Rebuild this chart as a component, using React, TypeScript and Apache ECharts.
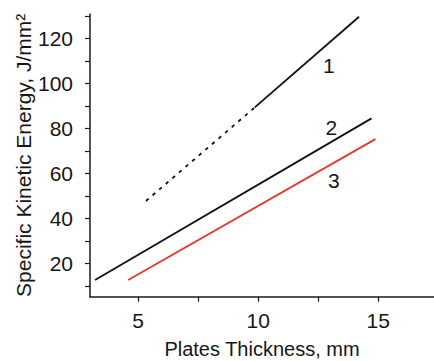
import React, { useEffect, useRef } from "react";
import * as echarts from "echarts";

// Curve 1 (dotted extrapolated part, then solid), curve 2 (black), curve 3 (red)
const curve1DottedX = [5.33, 9.86];
const curve1DottedY = [47.7, 89.3];
const curve1SolidX = [9.86, 14.2];
const curve1SolidY = [89.3, 129.6];
const curve2X = [3.21, 14.72];
const curve2Y = [12.6, 84.4];
const curve3X = [4.59, 14.88];
const curve3Y = [12.6, 75.2];

// Curve number labels
const curveLabels = ["1", "2", "3"];
const curveLabelX = [12.94, 13.05, 13.15];
const curveLabelY = [107.9, 80.3, 57.0];

// Axis ticks
const xTickValues = [5, 7.5, 10, 12.5, 15];
const xLabelValues = [5, 10, 15];
const yTickValues = [10, 20, 30, 40, 50, 60, 70, 80, 90, 100, 110, 120, 130];
const yLabelValues = [20, 40, 60, 80, 100, 120];

const zip = (xs: number[], ys: number[]) => xs.map((x, i) => [x, ys[i]]);

const FONT = "'Liberation Sans', Arial, Helvetica, sans-serif";
const TEXT = "#161616";
const AXIS = "#1a1a1a";
const FS = 21;

export default function App() {
  const ref = useRef<HTMLDivElement>(null);
  useEffect(() => {
    if (!ref.current) return;
    const chart = echarts.init(ref.current, null, { renderer: "svg" });
    const axisCommon = {
      type: "value" as const,
      axisLine: { show: true, onZero: false, lineStyle: { color: AXIS, width: 1.5 } },
      splitLine: { show: false },
      nameMoveOverlap: false,
    };
    chart.setOption({
      animation: false,
      backgroundColor: "#ffffff",
      grid: {
        left: 90,
        right: 0,
        top: 14,
        bottom: 64.3,
        containLabel: false,
        outerBoundsMode: "none",
      },
      xAxis: {
        ...axisCommon,
        min: 3,
        max: 17.32,
        name: "Plates Thickness, mm",
        nameLocation: "middle",
        nameGap: 42,
        nameTextStyle: { color: TEXT, fontSize: 20, fontFamily: FONT },
        axisTick: {
          show: true,
          inside: false,
          length: 5,
          lineStyle: { color: AXIS, width: 1.2 },
          customValues: xTickValues,
        },
        axisLabel: {
          color: TEXT,
          fontSize: FS,
          fontFamily: FONT,
          margin: 13,
          customValues: xLabelValues,
        },
      },
      yAxis: {
        ...axisCommon,
        min: 5.15,
        max: 130.8,
        name: "Specific Kinetic Energy, J/mm²",
        nameLocation: "middle",
        nameGap: 56,
        nameTextStyle: { color: TEXT, fontSize: FS, fontFamily: FONT },
        axisTick: {
          show: true,
          inside: false,
          length: 5,
          lineStyle: { color: AXIS, width: 1.2 },
          customValues: yTickValues,
        },
        axisLabel: {
          color: TEXT,
          fontSize: FS,
          fontFamily: FONT,
          margin: 17,
          customValues: yLabelValues,
        },
      },
      series: [
        {
          type: "line",
          data: zip(curve1DottedX, curve1DottedY),
          showSymbol: false,
          lineStyle: { color: "#111111", width: 1.8, type: [3.5, 5.2] },
        },
        {
          type: "line",
          data: zip(curve1SolidX, curve1SolidY),
          showSymbol: false,
          lineStyle: { color: "#111111", width: 1.8 },
        },
        {
          type: "line",
          data: zip(curve2X, curve2Y),
          showSymbol: false,
          lineStyle: { color: "#111111", width: 1.8 },
        },
        {
          type: "line",
          data: zip(curve3X, curve3Y),
          showSymbol: false,
          lineStyle: { color: "#e5382b", width: 1.8 },
        },
        {
          type: "scatter",
          symbolSize: 1,
          itemStyle: { color: "rgba(0,0,0,0)", opacity: 1 },
          data: curveLabels.map((t, i) => [curveLabelX[i], curveLabelY[i], t]),
          label: {
            show: true,
            position: "inside",
            formatter: (p: any) => p.value[2],
            color: TEXT,
            opacity: 1,
            fontSize: FS,
            fontFamily: FONT,
          },
        },
      ],
    });
    return () => chart.dispose();
  }, []);
  return (
    <div
      ref={ref}
      style={{ position: "fixed", left: 0, top: 0, width: 434, height: 361, background: "#fff" }}
    />
  );
}
